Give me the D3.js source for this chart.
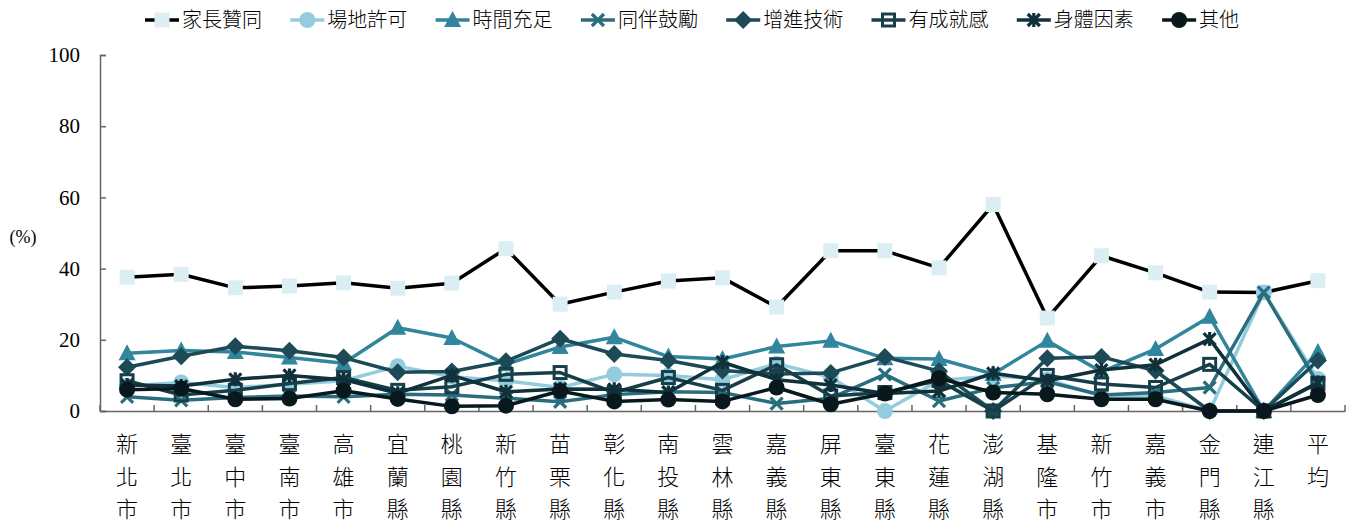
<!DOCTYPE html>
<html><head><meta charset="utf-8">
<script src="https://cdn.jsdelivr.net/npm/d3@7"></script>
<style>
html,body{margin:0;padding:0;background:#fff;}
svg{display:block;}
</style></head>
<body>
<svg id="chart" width="1350" height="522"></svg>
<script>
const categories = ["新北市","臺北市","臺中市","臺南市","高雄市","宜蘭縣","桃園縣","新竹縣","苗栗縣","彰化縣","南投縣","雲林縣","嘉義縣","屏東縣","臺東縣","花蓮縣","澎湖縣","基隆市","新竹市","嘉義市","金門縣","連江縣","平均"];
const seriesNames = ["家長贊同","場地許可","時間充足","同伴鼓勵","增進技術","有成就感","身體因素","其他"];
const parentApproval = [37.6,38.4,34.6,35.1,36.0,34.5,35.9,45.6,30.0,33.4,36.5,37.4,29.2,45.0,45.0,40.2,58.0,26.1,43.6,38.8,33.4,33.3,36.6];
const venueAllowed  = [7.0,8.0,6.6,7.5,8.5,12.6,9.6,8.5,6.6,10.3,10.0,8.8,13.3,9.5,0.0,8.6,9.8,8.9,4.2,4.2,0.0,33.3,9.0];
const timeEnough    = [16.2,17.0,16.6,15.0,13.4,23.4,20.5,13.1,18.0,20.7,15.3,14.6,18.1,19.7,14.8,14.6,10.4,19.7,11.0,17.4,26.5,0.0,16.6];
const peerEncourage = [4.0,3.0,3.8,4.2,4.0,4.7,4.5,3.6,2.6,4.6,5.4,5.2,2.1,3.6,10.3,2.8,6.5,8.2,4.5,5.2,6.6,33.3,7.6];
const skillImprove  = [12.3,15.4,18.2,16.9,15.0,10.9,11.1,14.0,20.3,16.0,14.2,11.4,10.4,10.7,15.2,11.2,0.0,14.8,15.2,11.3,0.0,0.0,14.2];
const achievement   = [8.5,4.5,5.8,7.7,9.4,5.8,6.8,10.3,10.8,5.2,9.4,5.8,13.0,4.2,5.2,8.6,0.0,10.0,7.6,6.6,13.1,0.0,7.8];
const bodyFactor    = [7.3,7.0,8.9,10.0,8.8,5.0,10.0,5.4,6.2,6.1,5.2,13.7,8.8,7.3,4.9,5.6,10.6,8.5,11.5,13.0,20.2,0.0,8.0];
const otherReason   = [6.0,6.3,3.3,3.5,5.7,3.4,1.3,1.5,5.6,2.7,3.2,2.7,6.6,1.9,4.9,9.2,5.2,4.7,3.3,3.3,0.0,0.0,4.5];
const yTicks = [0,20,40,60,80,100];

const allValues = [parentApproval,venueAllowed,timeEnough,peerEncourage,skillImprove,achievement,bodyFactor,otherReason];
const styles = [
  {line:"#000000", fill:"#dbeef4", stroke:"none", shape:"square"},
  {line:"#93cddd", fill:"#93cddd", stroke:"none", shape:"circle"},
  {line:"#31859c", fill:"#31859c", stroke:"none", shape:"triangle"},
  {line:"#2a6d7e", fill:"none", stroke:"#2a6d7e", shape:"x"},
  {line:"#1c4a56", fill:"#1c4a56", stroke:"none", shape:"diamond"},
  {line:"#173f4a", fill:"none", stroke:"#173f4a", shape:"hsquare"},
  {line:"#10303a", fill:"none", stroke:"#10303a", shape:"star"},
  {line:"#08181c", fill:"#08181c", stroke:"none", shape:"circle"}
];

const svg = d3.select("#chart");
const L = 100, R = 1345, T = 55, B = 411;
const x = d3.scaleBand().domain(categories).range([L,R]).padding(0);
const y = d3.scaleLinear().domain([0,100]).range([B,T]);
const cx = c => x(c) + x.bandwidth()/2;

// y axis
const yAxis = d3.axisLeft(y).tickValues(yTicks).tickSize(-6).tickPadding(20);
const gy = svg.append("g").attr("transform",`translate(${L},0)`).call(yAxis);
gy.select(".domain").attr("stroke","#666").attr("stroke-width",1.5);
gy.selectAll(".tick line").attr("stroke","#666").attr("stroke-width",1.5);
gy.selectAll(".tick text").attr("font-family","'Liberation Serif', serif").attr("font-size",21).attr("fill","#000");

// x axis
const xAxis = d3.axisBottom(x).tickSize(0).tickFormat("");
const gx = svg.append("g").attr("transform",`translate(0,${B})`).call(xAxis);
gx.select(".domain").attr("stroke","#666").attr("stroke-width",1.5);
const bounds = categories.map(c => x(c)).concat([R]);
svg.append("g").selectAll("line").data(bounds).join("line")
  .attr("x1",d=>d).attr("x2",d=>d).attr("y1",B).attr("y2",B-6)
  .attr("stroke","#666").attr("stroke-width",1.5);

// x labels (vertical characters)
const xl = svg.append("g");
categories.forEach(c => {
  const chars = Array.from(c);
  chars.forEach((ch,i) => {
    xl.append("text").attr("x",cx(c)).attr("y",452 + i*32.5)
      .attr("text-anchor","middle")
      .attr("font-family","'Noto Sans CJK TC', sans-serif").attr("font-weight",300)
      .attr("font-size",22).attr("fill","#000").text(ch);
  });
});

// y label
svg.append("text").attr("x",23).attr("y",243).attr("text-anchor","middle")
  .attr("font-family","'Liberation Serif', serif").attr("font-size",18).text("(%)");

function drawMarker(g, st, px, py, scale) {
  const s = scale || 1;
  switch (st.shape) {
    case "square":
      g.append("rect").attr("x",px-7.5*s).attr("y",py-7.5*s).attr("width",15*s).attr("height",15*s).attr("fill",st.fill); break;
    case "circle":
      g.append("circle").attr("cx",px).attr("cy",py).attr("r",8*s).attr("fill",st.fill); break;
    case "triangle":
      g.append("path").attr("d",`M${px},${py-9*s}L${px+8.5*s},${py+7*s}L${px-8.5*s},${py+7*s}Z`).attr("fill",st.fill); break;
    case "diamond":
      g.append("path").attr("d",`M${px},${py-9*s}L${px+9*s},${py}L${px},${py+9*s}L${px-9*s},${py}Z`).attr("fill",st.fill); break;
    case "x":
      g.append("path").attr("d",`M${px-6*s},${py-6*s}L${px+6*s},${py+6*s}M${px+6*s},${py-6*s}L${px-6*s},${py+6*s}`)
        .attr("stroke",st.stroke).attr("stroke-width",3.2).attr("fill","none"); break;
    case "hsquare":
      g.append("rect").attr("x",px-6*s).attr("y",py-6*s).attr("width",12*s).attr("height",12*s)
        .attr("fill","none").attr("stroke",st.stroke).attr("stroke-width",3); break;
    case "star":
      g.append("path").attr("d",`M${px-6*s},${py-6*s}L${px+6*s},${py+6*s}M${px+6*s},${py-6*s}L${px-6*s},${py+6*s}M${px},${py-7*s}L${px},${py+7*s}`)
        .attr("stroke",st.stroke).attr("stroke-width",3.2).attr("fill","none"); break;
  }
}

const line = d3.line().x((d,i)=>cx(categories[i])).y(d=>y(d));
allValues.forEach((vals, k) => {
  const st = styles[k];
  const g = svg.append("g");
  g.append("path").datum(vals).attr("d",line).attr("fill","none")
    .attr("stroke",st.line).attr("stroke-width",3.5).attr("stroke-linejoin","round");
  vals.forEach((v,i) => drawMarker(g, st, cx(categories[i]), y(v)));
});

// legend
const lg = svg.append("g");
const legendStarts = seriesNames.map((n,i) => 145 + i*145.3);
seriesNames.forEach((n,i) => {
  const st = styles[i];
  const sx = legendStarts[i], ly = 20;
  lg.append("line").attr("x1",sx).attr("x2",sx+34).attr("y1",ly).attr("y2",ly)
    .attr("stroke",st.line).attr("stroke-width",3.5);
  drawMarker(lg, st, sx+17, ly, 1);
  lg.append("text").attr("x",sx+37).attr("y",ly+7).attr("font-family","'Noto Sans CJK TC', sans-serif")
    .attr("font-weight",300).attr("font-size",20).attr("fill","#000").text(n);
});
</script>
</body></html>
